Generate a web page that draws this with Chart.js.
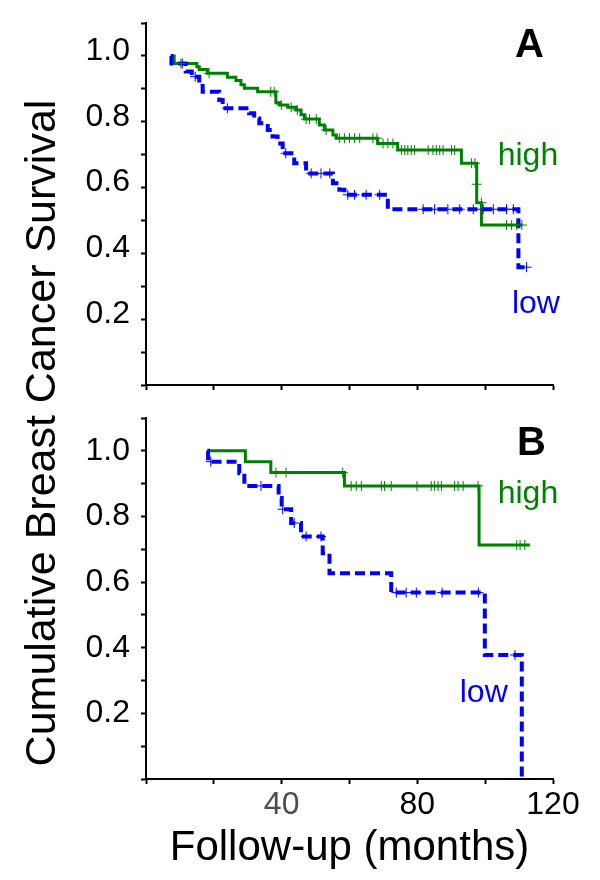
<!DOCTYPE html>
<html>
<head>
<meta charset="utf-8">
<script src="https://cdn.jsdelivr.net/npm/chart.js@4.4.1/dist/chart.umd.min.js"></script>
<style>
html, body { margin: 0; padding: 0; background: #fff; }
#wrap { position: relative; width: 600px; height: 880px; overflow: hidden; }
#wrap canvas { position: absolute; left: 0; }
#chartA { top: 0; }
#chartB { top: 395px; }
#ytitle {
    position: absolute; left: -310px; top: 408px; width: 700px; height: 50px;
    line-height: 50px; text-align: center; white-space: nowrap; color: #000;
    font-family: 'Liberation Sans', Arial, sans-serif; font-size: 43px;
    transform: rotate(-90deg);
}
</style>
</head>
<body>
<div id="wrap">
    <canvas id="chartA" width="600" height="405"></canvas>
    <canvas id="chartB" width="600" height="485"></canvas>
    <div id="ytitle">Cumulative Breast Cancer Survival</div>
</div>
<script>
var FONT = "'Liberation Sans', Arial, sans-serif";
var GREEN = '#008000';
var BLUE = '#0000ff';

var xTickLabels = ['40', '80', '120'];
var yTickLabels = ['0.2', '0.4', '0.6', '0.8', '1.0'];

// panel A - high
var aHighT = [7.3, 8.3, 15, 15.7, 18.1, 24, 26.5, 28, 29, 32.9, 38.3, 39.4, 41.8, 44.2, 45.7, 46.7, 51.1, 52.6, 55.1, 56.1, 68.3, 74.2, 93, 97.5, 98.9, 111];
var aHighS = [1.0, 0.977, 0.967, 0.959, 0.947, 0.935, 0.925, 0.912, 0.902, 0.891, 0.858, 0.851, 0.844, 0.836, 0.821, 0.808, 0.79, 0.775, 0.76, 0.75, 0.734, 0.714, 0.674, 0.554, 0.486, 0.486];
var aHighCensT = [10.3, 18.6, 36.8, 37.8, 39.9, 42.8, 44.6, 47.2, 48.2, 50.2, 53.1, 57, 58.5, 60, 61.5, 63, 66.9, 68.1, 69.9, 71.3, 72.8, 75.3, 76.3, 77.2, 78.2, 79.2, 83.2, 84.6, 85.6, 86.6, 87.6, 90.1, 91, 96, 97, 97.5, 98.9, 106.3, 107.8, 109.3, 110.8];
var aHighCensS = [0.977, 0.947, 0.891, 0.891, 0.851, 0.844, 0.836, 0.808, 0.808, 0.808, 0.775, 0.75, 0.75, 0.75, 0.75, 0.75, 0.75, 0.75, 0.734, 0.734, 0.734, 0.714, 0.714, 0.714, 0.714, 0.714, 0.714, 0.714, 0.714, 0.714, 0.714, 0.714, 0.714, 0.674, 0.674, 0.61, 0.554, 0.486, 0.486, 0.486, 0.486];

// panel A - low
var aLowT = [7.3, 7.5, 11.7, 13.5, 15.7, 16.7, 21.6, 22.6, 30.4, 31.9, 33.4, 35.9, 37.3, 38.8, 40.3, 43.7, 47.2, 55.1, 57, 58.5, 71.3, 109.8, 112.6];
var aLowS = [1.0, 0.977, 0.953, 0.937, 0.917, 0.891, 0.866, 0.841, 0.826, 0.81, 0.795, 0.775, 0.755, 0.734, 0.704, 0.674, 0.643, 0.613, 0.593, 0.578, 0.534, 0.358, 0.358];
var aLowCensT = [10.7, 14.5, 24, 41.2, 48.7, 51.6, 54.2, 59.5, 61.5, 64.9, 68.9, 81.7, 85.1, 89, 92.5, 96.5, 99.4, 102.4, 106.3, 108.3, 112.2];
var aLowCensS = [0.977, 0.937, 0.841, 0.704, 0.643, 0.643, 0.643, 0.578, 0.578, 0.578, 0.578, 0.534, 0.534, 0.534, 0.534, 0.534, 0.534, 0.534, 0.534, 0.534, 0.358];

// panel B - high
var bHighT = [18.1, 29.3, 36.8, 58.5, 98.2, 113.2];
var bHighS = [1.0, 0.967, 0.934, 0.893, 0.713, 0.713];
var bHighCensT = [38.3, 41.3, 58, 60.5, 62, 63.5, 69.4, 70.3, 72.3, 79.9, 84.1, 85.1, 86.1, 87.1, 91, 92, 93.5, 97.9, 109.3, 110.3, 111.7];
var bHighCensS = [0.934, 0.934, 0.934, 0.893, 0.893, 0.893, 0.893, 0.893, 0.893, 0.893, 0.893, 0.893, 0.893, 0.893, 0.893, 0.893, 0.893, 0.893, 0.713, 0.713, 0.713];

// panel B - low
var bLowT = [18.1, 18.3, 27.5, 29, 39.1, 40, 42.8, 45.7, 52.1, 54.1, 72.3, 99.9, 110.8];
var bLowS = [1.0, 0.967, 0.932, 0.893, 0.856, 0.822, 0.78, 0.739, 0.688, 0.627, 0.568, 0.378, 0.0];
var bLowCensT = [19.1, 33.9, 40.3, 43.7, 47.2, 51.6, 73.8, 76.7, 79.7, 87.3, 98, 108.8];
var bLowCensS = [0.967, 0.893, 0.822, 0.78, 0.739, 0.739, 0.568, 0.568, 0.568, 0.568, 0.568, 0.378];

function pts(t, s) {
    return t.map(function (v, i) { return { x: v, y: s[i] }; });
}

function stepLine(t, s, color, dashed) {
    return {
        data: pts(t, s),
        borderColor: color,
        borderWidth: dashed ? 4 : 3,
        borderDash: dashed ? [10, 5] : [],
        stepped: 'before',
        pointRadius: 0,
        fill: false,
        order: 1
    };
}

function censors(t, s, color) {
    return {
        data: pts(t, s),
        showLine: false,
        pointStyle: 'cross',
        pointRadius: 5,
        borderColor: color,
        borderWidth: 1,
        order: 0
    };
}

var labelsPlugin = {
    id: 'panelLabels',
    afterDatasetsDraw: function (chart, args, opts) {
        var ctx = chart.ctx;
        var xs = chart.scales.x, ys = chart.scales.y;
        (opts.items || []).forEach(function (it) {
            ctx.save();
            ctx.font = it.font;
            ctx.fillStyle = it.color;
            ctx.textAlign = 'left';
            ctx.textBaseline = 'alphabetic';
            ctx.fillText(it.text, xs.getPixelForValue(it.x), ys.getPixelForValue(it.y));
            ctx.restore();
        });
    }
};

function makePanel(id, datasets, items, showX, xHeight, labelShift) {
    new Chart(document.getElementById(id), {
        type: 'line',
        data: { datasets: datasets },
        plugins: [labelsPlugin],
        options: {
            responsive: false,
            animation: false,
            layout: { padding: { top: 23, right: 47, left: 0, bottom: 0 } },
            scales: {
                x: {
                    type: 'linear', min: 0, max: 120,
                    border: { display: true, color: '#000', width: 2 },
                    grid: { drawOnChartArea: false, drawTicks: true, tickLength: 5, tickColor: '#000', tickWidth: 2 },
                    ticks: {
                        stepSize: 20, autoSkip: false, maxRotation: 0, padding: 2,
                        font: { family: FONT, size: 32 },
                        color: function (c) { return c.tick && c.tick.value === 40 ? '#4d4d4d' : '#000'; },
                        callback: function (v) {
                            var l = String(v);
                            return showX && xTickLabels.indexOf(l) >= 0 ? l : '';
                        }
                    },
                    title: {
                        display: showX, text: 'Follow-up (months)', color: '#000',
                        font: { family: FONT, size: 42 }, padding: { top: 0, bottom: 6 }
                    },
                    afterFit: function (s) { s.height = xHeight; }
                },
                y: {
                    type: 'linear', min: 0, max: 1.1,
                    border: { display: true, color: '#000', width: 2 },
                    grid: { drawOnChartArea: false, drawTicks: true, tickLength: 5, tickColor: '#000', tickWidth: 2 },
                    ticks: {
                        stepSize: 0.1, autoSkip: false, padding: 11, labelOffset: labelShift,
                        font: { family: FONT, size: 32, lineHeight: 0.5 }, color: '#000',
                        callback: function (v) {
                            var l = v.toFixed(1);
                            return yTickLabels.indexOf(l) >= 0 ? l : '';
                        }
                    },
                    afterFit: function (s) { s.width = 146; }
                }
            },
            plugins: {
                legend: { display: false },
                tooltip: { enabled: false },
                panelLabels: { items: items }
            }
        }
    });
}

makePanel('chartA', [
    censors(aHighCensT, aHighCensS, GREEN),
    censors(aLowCensT, aLowCensS, BLUE),
    stepLine(aLowT, aLowS, BLUE, true),
    stepLine(aHighT, aHighS, GREEN, false)
], [
    { text: 'A', x: 108.8, y: 0.997, color: '#000', font: 'bold 40px ' + FONT },
    { text: 'high', x: 103.7, y: 0.667, color: GREEN, font: '32px ' + FONT },
    { text: 'low', x: 107.9, y: 0.219, color: BLUE, font: '32px ' + FONT }
], false, 20, -5);

makePanel('chartB', [
    censors(bHighCensT, bHighCensS, GREEN),
    censors(bLowCensT, bLowCensS, BLUE),
    stepLine(bLowT, bLowS, BLUE, true),
    stepLine(bHighT, bHighS, GREEN, false)
], [
    { text: 'B', x: 109.4, y: 0.988, color: '#000', font: 'bold 40px ' + FONT },
    { text: 'high', x: 103.7, y: 0.84, color: GREEN, font: '32px ' + FONT },
    { text: 'low', x: 92.5, y: 0.235, color: BLUE, font: '32px ' + FONT }
], true, 101, 0);
</script>
</body>
</html>
